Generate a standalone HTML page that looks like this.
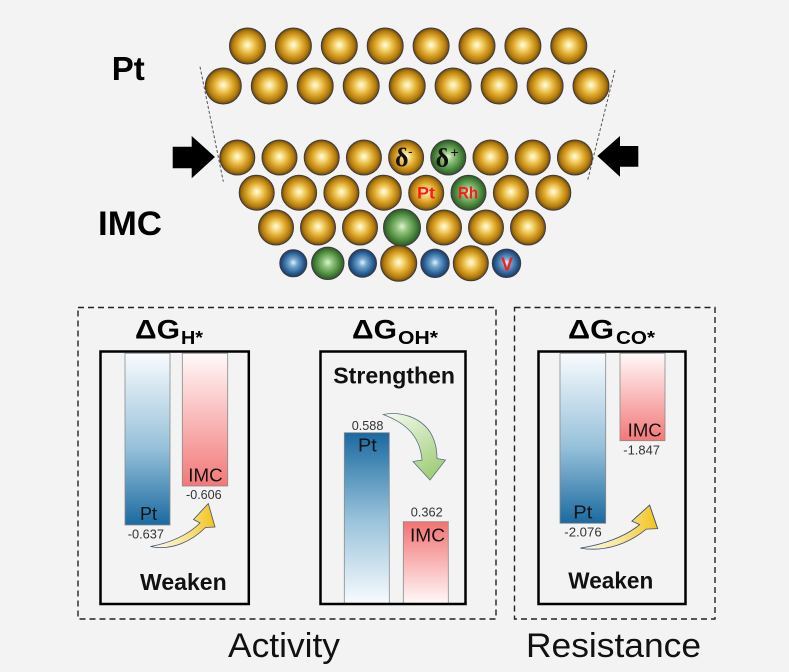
<!DOCTYPE html>
<html><head><meta charset="utf-8"><style>
html,body{margin:0;padding:0;background:#f3f3f3;}
svg{display:block;}
text{font-family:"Liberation Sans",Arial,sans-serif;}
</style></head><body>
<svg width="789" height="672" viewBox="0 0 789 672" xmlns="http://www.w3.org/2000/svg">
<defs>
<radialGradient id="gold" cx="50%" cy="50%" r="50%" fx="50%" fy="47%">
<stop offset="0" stop-color="#fffdf0"/><stop offset="0.22" stop-color="#f8de86"/><stop offset="0.55" stop-color="#dca629"/><stop offset="0.82" stop-color="#b07a0e"/><stop offset="1" stop-color="#6a4708"/>
</radialGradient>
<radialGradient id="green" cx="50%" cy="50%" r="50%" fx="50%" fy="47%">
<stop offset="0" stop-color="#dff2d2"/><stop offset="0.3" stop-color="#92c480"/><stop offset="0.7" stop-color="#4f8d40"/><stop offset="1" stop-color="#2c5724"/>
</radialGradient>
<radialGradient id="blue" cx="50%" cy="50%" r="50%" fx="50%" fy="47%">
<stop offset="0" stop-color="#e4f1fb"/><stop offset="0.3" stop-color="#74a6cf"/><stop offset="0.72" stop-color="#2e659a"/><stop offset="1" stop-color="#1a3a62"/>
</radialGradient>
<linearGradient id="bDown" x1="0" y1="0" x2="0" y2="1"><stop offset="0" stop-color="#f8fbfe"/><stop offset="0.55" stop-color="#97c1da"/><stop offset="1" stop-color="#1a6aa0"/></linearGradient>
<linearGradient id="pDown" x1="0" y1="0" x2="0" y2="1"><stop offset="0" stop-color="#fff9f9"/><stop offset="1" stop-color="#f37878"/></linearGradient>
<linearGradient id="bUp" x1="0" y1="1" x2="0" y2="0"><stop offset="0" stop-color="#f8fbfe"/><stop offset="0.5" stop-color="#97c1da"/><stop offset="1" stop-color="#1a6aa0"/></linearGradient>
<linearGradient id="pUp" x1="0" y1="1" x2="0" y2="0"><stop offset="0" stop-color="#fff9f9"/><stop offset="1" stop-color="#f37272"/></linearGradient>
<linearGradient id="yel" x1="0" y1="0" x2="1" y2="0"><stop offset="0" stop-color="#fbfbf2"/><stop offset="0.5" stop-color="#f8e79a"/><stop offset="1" stop-color="#f3c21a"/></linearGradient>
<linearGradient id="grn" x1="0" y1="0" x2="0.6" y2="1"><stop offset="0" stop-color="#f6fbf1"/><stop offset="1" stop-color="#a3cf7c"/></linearGradient>
</defs>

<!-- labels -->
<text x="111.7" y="80" font-size="33" font-weight="bold" fill="#000" textLength="33" lengthAdjust="spacingAndGlyphs">Pt</text>
<text x="98" y="235" font-size="34" font-weight="bold" fill="#000" textLength="64" lengthAdjust="spacingAndGlyphs">IMC</text>

<!-- dashed guide lines -->
<line x1="200" y1="66.7" x2="223.3" y2="181.7" stroke="#555" stroke-width="1" stroke-dasharray="3,2"/>
<line x1="615" y1="70" x2="587.7" y2="180" stroke="#555" stroke-width="1" stroke-dasharray="3,2"/>

<!-- black arrows -->
<polygon points="172.7,146.7 191.7,146.7 191.7,136 215,157 191.7,178.3 191.7,168.3 172.7,168.3" fill="#000"/>
<polygon points="638.3,146 620,146 620,136 597.3,156 620,176.7 620,166.7 638.3,166.7" fill="#000"/>

<g stroke="#3d3a44" stroke-width="1">
<g fill="url(#gold)">
<circle cx="247.5" cy="46" r="18"/><circle cx="293.4" cy="46" r="18"/><circle cx="339.3" cy="46" r="18"/><circle cx="385.2" cy="46" r="18"/><circle cx="431.1" cy="46" r="18"/><circle cx="477" cy="46" r="18"/><circle cx="522.9" cy="46" r="18"/><circle cx="568.8" cy="46" r="18"/>
<circle cx="223.3" cy="86" r="18"/><circle cx="269.3" cy="86" r="18"/><circle cx="315.2" cy="86" r="18"/><circle cx="361.2" cy="86" r="18"/><circle cx="407.2" cy="86" r="18"/><circle cx="453.1" cy="86" r="18"/><circle cx="499.1" cy="86" r="18"/><circle cx="545.1" cy="86" r="18"/><circle cx="591" cy="86" r="18"/>
<circle cx="237.3" cy="157.5" r="17.5"/><circle cx="279.5" cy="157.5" r="17.5"/><circle cx="321.7" cy="157.5" r="17.5"/><circle cx="363.9" cy="157.5" r="17.5"/><circle cx="406.1" cy="157.5" r="17.5"/><circle cx="490.5" cy="157.5" r="17.5"/><circle cx="532.7" cy="157.5" r="17.5"/><circle cx="574.9" cy="157.5" r="17.5"/>
<circle cx="256.7" cy="192.7" r="17.5"/><circle cx="299.1" cy="192.7" r="17.5"/><circle cx="341.4" cy="192.7" r="17.5"/><circle cx="383.8" cy="192.7" r="17.5"/><circle cx="426.2" cy="192.7" r="17.5"/><circle cx="510.9" cy="192.7" r="17.5"/><circle cx="553.3" cy="192.7" r="17.5"/>
<circle cx="276" cy="227.5" r="17.5"/><circle cx="318" cy="227.5" r="17.5"/><circle cx="360" cy="227.5" r="17.5"/><circle cx="444" cy="227.5" r="17.5"/><circle cx="486" cy="227.5" r="17.5"/><circle cx="528" cy="227.5" r="17.5"/>
<circle cx="398.7" cy="263.3" r="18"/><circle cx="470.8" cy="263.3" r="17.5"/>
</g>
<g fill="url(#green)">
<circle cx="448.3" cy="157.5" r="17.5"/>
<circle cx="468.5" cy="192.7" r="17.5"/>
<circle cx="402" cy="227.5" r="18.5"/>
<circle cx="327.8" cy="263.3" r="16.2"/>
</g>
<g fill="url(#blue)">
<circle cx="293.3" cy="263.3" r="13.5"/><circle cx="362.5" cy="263.3" r="14"/><circle cx="435" cy="263.3" r="14.2"/><circle cx="506.5" cy="263.3" r="14.2"/>
</g>
</g>

<!-- atom labels -->
<text x="395" y="166" font-size="26" font-weight="bold" fill="#111" style="font-family:'Liberation Serif',serif">δ</text>
<text x="408" y="156" font-size="14" fill="#111">-</text>
<text x="435.5" y="166.5" font-size="26" font-weight="bold" fill="#111" style="font-family:'Liberation Serif',serif">δ</text>
<text x="450.5" y="157" font-size="14" fill="#111">+</text>
<text x="417" y="198.5" font-size="17" font-weight="bold" fill="#ff1a1a" textLength="18" lengthAdjust="spacingAndGlyphs">Pt</text>
<text x="458" y="198.5" font-size="17" font-weight="bold" fill="#ff1a1a" textLength="20" lengthAdjust="spacingAndGlyphs">Rh</text>
<text x="501" y="270.5" font-size="18" font-weight="bold" fill="#ff1a1a">V</text>

<!-- dashed group boxes -->
<rect x="78" y="307.5" width="418" height="311.5" fill="none" stroke="#222" stroke-width="1.4" stroke-dasharray="6,4"/>
<rect x="514.5" y="307.5" width="200.5" height="311.5" fill="none" stroke="#222" stroke-width="1.4" stroke-dasharray="6,4"/>

<!-- titles -->
<text x="135" y="338.3" font-size="27" font-weight="bold" textLength="45" lengthAdjust="spacingAndGlyphs">ΔG</text>
<text x="181" y="344" font-size="18" font-weight="bold" textLength="22" lengthAdjust="spacingAndGlyphs">H*</text>
<text x="352" y="338.3" font-size="27" font-weight="bold" textLength="45" lengthAdjust="spacingAndGlyphs">ΔG</text>
<text x="398" y="344" font-size="18" font-weight="bold" textLength="40" lengthAdjust="spacingAndGlyphs">OH*</text>
<text x="568" y="338.3" font-size="27" font-weight="bold" textLength="46" lengthAdjust="spacingAndGlyphs">ΔG</text>
<text x="616" y="344" font-size="18" font-weight="bold" textLength="39" lengthAdjust="spacingAndGlyphs">CO*</text>

<!-- Box 1 -->
<rect x="125" y="353.3" width="45" height="171.7" fill="url(#bDown)" stroke="#8a8a8a" stroke-width="0.8"/>
<rect x="182.3" y="353.3" width="45.4" height="132.7" fill="url(#pDown)" stroke="#8a8a8a" stroke-width="0.8"/>
<text x="140" y="520" font-size="18" fill="#111" textLength="17" lengthAdjust="spacingAndGlyphs">Pt</text>
<text x="188.3" y="481.7" font-size="18" fill="#111" textLength="34.3" lengthAdjust="spacingAndGlyphs">IMC</text>
<text x="186" y="499" font-size="13" fill="#333" textLength="35.7" lengthAdjust="spacingAndGlyphs">-0.606</text>
<text x="127.7" y="538.3" font-size="13" fill="#333" textLength="36.3" lengthAdjust="spacingAndGlyphs">-0.637</text>
<path d="M150.5,546.5 C172,551 192,541 205.5,527.5 L215,527 L208.3,503.5 L193.5,519.5 L200,523 C188,535 170,543 150.5,546.5 Z" fill="url(#yel)" stroke="#3e4f74" stroke-width="0.8"/>
<text x="140" y="590" font-size="23" font-weight="bold" fill="#111" textLength="86.7" lengthAdjust="spacingAndGlyphs">Weaken</text>
<rect x="100.5" y="351.5" width="148.3" height="252.5" fill="none" stroke="#000" stroke-width="2.5"/>

<!-- Box 2 -->
<rect x="344.3" y="432.7" width="45" height="171" fill="url(#bUp)" stroke="#8a8a8a" stroke-width="0.8"/>
<rect x="403.3" y="521.7" width="45" height="82" fill="url(#pUp)" stroke="#8a8a8a" stroke-width="0.8"/>
<text x="351.7" y="430" font-size="13" fill="#333" textLength="31.7" lengthAdjust="spacingAndGlyphs">0.588</text>
<text x="358" y="451.7" font-size="18" fill="#111" textLength="18.7" lengthAdjust="spacingAndGlyphs">Pt</text>
<text x="410.7" y="516.7" font-size="13" fill="#333" textLength="32" lengthAdjust="spacingAndGlyphs">0.362</text>
<text x="410" y="541.7" font-size="18" fill="#111" textLength="35" lengthAdjust="spacingAndGlyphs">IMC</text>
<text x="333.3" y="383.3" font-size="23" font-weight="bold" fill="#111" textLength="121.7" lengthAdjust="spacingAndGlyphs">Strengthen</text>
<path d="M383.3,414.5 C400,411 420,417 430,432 C435,440 437,450 437,458.5 L445.5,460 L430,480 L413,461.5 L422,460 C421,448 417,438 409,430 C401,422 392,418 383.3,414.5 Z" fill="url(#grn)" stroke="#5a7183" stroke-width="0.8"/>
<rect x="320.5" y="351.5" width="145" height="252.5" fill="none" stroke="#000" stroke-width="2.5"/>

<!-- Box 3 -->
<rect x="560" y="353.3" width="45.7" height="170" fill="url(#bDown)" stroke="#8a8a8a" stroke-width="0.8"/>
<rect x="620" y="353.3" width="45" height="87.4" fill="url(#pDown)" stroke="#8a8a8a" stroke-width="0.8"/>
<text x="627.7" y="436.7" font-size="18" fill="#111" textLength="34" lengthAdjust="spacingAndGlyphs">IMC</text>
<text x="623.3" y="454.3" font-size="13" fill="#333" textLength="36.7" lengthAdjust="spacingAndGlyphs">-1.847</text>
<text x="573.3" y="518.3" font-size="18" fill="#111" textLength="19" lengthAdjust="spacingAndGlyphs">Pt</text>
<text x="564.3" y="536.7" font-size="13" fill="#333" textLength="37.4" lengthAdjust="spacingAndGlyphs">-2.076</text>
<path transform="translate(581.7,548.3) scale(1.2,1)" d="M-1.2,-0.2 C20.3,4.3 40.3,-5.7 53.8,-19.2 L63.3,-19.7 L56.6,-43.2 L41.8,-27.2 L48.3,-23.7 C36.3,-11.7 18.3,-3.7 -1.2,-0.2 Z" fill="url(#yel)" stroke="#3e4f74" stroke-width="0.8"/>
<text x="568.3" y="588.3" font-size="23" font-weight="bold" fill="#111" textLength="85" lengthAdjust="spacingAndGlyphs">Weaken</text>
<rect x="538.5" y="351.5" width="147" height="252.5" fill="none" stroke="#000" stroke-width="2.5"/>

<!-- bottom labels -->
<text x="228" y="657" font-size="34" fill="#111" textLength="112" lengthAdjust="spacingAndGlyphs">Activity</text>
<text x="526" y="657" font-size="34" fill="#111" textLength="175" lengthAdjust="spacingAndGlyphs">Resistance</text>
</svg>
</body></html>
